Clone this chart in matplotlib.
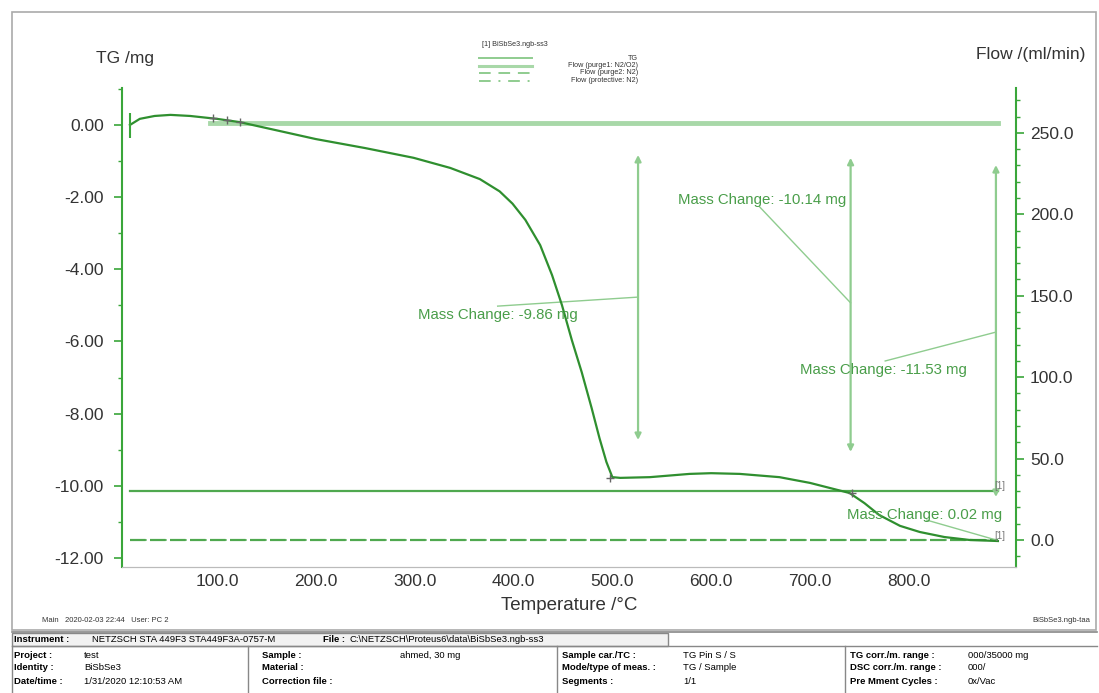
import numpy as np
import matplotlib
matplotlib.use("Agg")
import matplotlib.pyplot as plt
from matplotlib.lines import Line2D
from matplotlib.patches import Rectangle

plt.rcParams['font.family'] = ['Liberation Sans', 'DejaVu Sans']

# ---- data ----
temp = [12, 22, 37, 53, 73, 100, 123, 164, 200, 250, 299, 336, 366, 386, 399,
        412, 427, 439, 449, 459, 469, 479, 487, 494, 500, 508, 538, 578, 600,
        629, 669, 700, 720, 740, 755, 770, 791, 811, 836, 861, 890]
tg = [0.0, 0.17, 0.25, 0.28, 0.25, 0.17, 0.08, -0.17, -0.39, -0.64, -0.91,
      -1.19, -1.50, -1.84, -2.18, -2.63, -3.33, -4.16, -4.99, -5.96, -6.85,
      -7.84, -8.68, -9.34, -9.76, -9.78, -9.76, -9.67, -9.65, -9.67, -9.76,
      -9.92, -10.06, -10.2, -10.48, -10.81, -11.11, -11.28, -11.42, -11.5, -11.53]

flow_temp = [12, 890]
flow_purge1 = [30, 30]
flow_purge2 = [0, 0]
flow_protective = [0, 0]

baseline_temp = [93, 890]
baseline_tg = [0.055, 0.055]

eval_temp = [96, 110, 123, 498, 742]
eval_tg = [0.18, 0.14, 0.08, -9.77, -10.2]

# mass change annotations: arrow T, arrow top, arrow bottom, text pos, leader line
mc_labels = ["Mass Change: -9.86 mg", "Mass Change: -10.14 mg",
             "Mass Change: -11.53 mg", "Mass Change: 0.02 mg"]
mc_arrow_t = [526, 741, 888, None]
mc_arrow_top = [-0.83, -0.91, -1.11, None]
mc_arrow_bot = [-8.73, -9.06, -10.31, None]
mc_text_t = [384, 651, 774, 816]
mc_text_y = [-5.27, -2.08, -6.79, -10.81]
mc_lead_from = [(384, -5.02), (649, -2.27), (776, -6.54), (818, -10.95)]
mc_lead_to = [(526, -4.77), (741, -4.93), (888, -5.74), (888, -11.5)]

xticks = [100, 200, 300, 400, 500, 600, 700, 800]
yticks_left = [0, -2, -4, -6, -8, -10, -12]
yticks_right = [0, 50, 100, 150, 200, 250]

dark_green = '#2f8f2f'
axis_green = '#3aa63a'
light_green = '#a8d8a8'
text_green = '#4a9e4a'
grey_text = '#333333'

W, H = 1099, 693
fig = plt.figure(figsize=(W / 100, H / 100), dpi=100)


def fx(px):
    return px / W


def fy(py):
    return 1 - py / H


ax = fig.add_axes([fx(122), fy(567), fx(1016) - fx(122), fy(88) - fy(567)])
ax2 = ax.twinx()

ax.set_xlim(4.0, 908.3)
ax.set_ylim(-12.25, 1.025)
ax2.set_ylim(-16.6, 277.6)

# flows
ax2.plot(flow_temp, flow_purge1, color='#4fa84f', lw=1.6, zorder=2)
ax2.plot(flow_temp, flow_purge2, color='#4fa84f', lw=1.6, ls=(0, (7, 2)), zorder=2)
ax2.plot(flow_temp, flow_protective, color='#4fa84f', lw=1.2, ls=(0, (7, 2, 1, 2)), zorder=2)

# tg curve
ax.set_zorder(ax2.get_zorder() + 1)
ax.patch.set_visible(False)
ax.plot(baseline_temp, baseline_tg, color=light_green, lw=3.5, zorder=2)
ax.plot(temp, tg, color=dark_green, lw=1.6, zorder=3)
ax.plot([temp[0]], [tg[0]], marker='|', ms=18, mew=1.5, color=axis_green, zorder=3)
ax.plot(eval_temp, eval_tg, ls='none', marker='+', ms=6, mew=1, color='#666666', zorder=4)

for i, lab in enumerate(mc_labels):
    if mc_arrow_t[i] is not None:
        ax.annotate('', xy=(mc_arrow_t[i], mc_arrow_bot[i]),
                    xytext=(mc_arrow_t[i], mc_arrow_top[i]),
                    arrowprops=dict(arrowstyle='<|-|>', color='#8fcc8f', lw=1.6,
                                    mutation_scale=9, shrinkA=0, shrinkB=0))
    (x0, y0), (x1, y1) = mc_lead_from[i], mc_lead_to[i]
    ax.plot([x0, x1], [y0, y1], color='#8fcc8f', lw=1.0, zorder=2)
    ax.text(mc_text_t[i], mc_text_y[i], lab, color=text_green, fontsize=10.8,
            ha='center', va='center', zorder=5)

ax.text(892, -10.0, '[1]', fontsize=7, color='#777777', ha='center', va='center')
ax.text(892, -11.4, '[1]', fontsize=7, color='#777777', ha='center', va='center')

# axes styling
for a in (ax, ax2):
    a.spines['top'].set_visible(False)
    a.spines['bottom'].set_color('#bbbbbb')
ax.spines['right'].set_visible(False)
ax2.spines['left'].set_visible(False)
ax.spines['left'].set_color(axis_green)
ax.spines['left'].set_linewidth(1.5)
ax2.spines['right'].set_color(axis_green)
ax2.spines['right'].set_linewidth(1.5)

ax.set_xticks(xticks)
ax.set_xticklabels([f'{t:.1f}' for t in xticks], fontsize=12.5, color=grey_text)
ax.tick_params(axis='x', length=0, pad=5)
ax.set_yticks(yticks_left)
ax.set_yticklabels([f'{v:.2f}' for v in yticks_left], fontsize=12.5, color=grey_text)
ax.set_yticks(np.arange(-12, 1.5, 1), minor=True)
ax.tick_params(axis='y', which='major', length=6, color=axis_green, width=1.2, pad=7)
ax.tick_params(axis='y', which='minor', length=3, color=axis_green, width=1.0)

ax2.set_yticks(yticks_right)
ax2.set_yticklabels([f'{v:.1f}' for v in yticks_right], fontsize=12.5, color=grey_text)
ax2.set_yticks(np.arange(-10, 280, 10), minor=True)
ax2.tick_params(axis='y', which='major', length=6, color=axis_green, width=1.2, pad=4)
ax2.tick_params(axis='y', which='minor', length=3, color=axis_green, width=1.0)

fig.text(fx(569), fy(605), 'Temperature /°C', fontsize=13.5, color=grey_text, ha='center', va='center')

fig.text(fx(125), fy(58), 'TG /mg', fontsize=12.5, color=grey_text, ha='center', va='center')
fig.text(fx(1085), fy(55), 'Flow /(ml/min)', fontsize=12.5, color=grey_text, ha='right', va='center')

# legend drawn by hand (right aligned text like the original)
fig.text(fx(482), fy(45), '[1] BiSbSe3.ngb-ss3', fontsize=5.2, color=grey_text, va='center')
leg_entries = [('TG', '-', '#8fcc8f', 1.4),
               ('Flow (purge1: N2/O2)', '-', '#a8d8a8', 2.2),
               ('Flow (purge2: N2)', (0, (6, 4)), '#8fcc8f', 1.4),
               ('Flow (protective: N2)', (0, (6, 4, 1, 4)), '#8fcc8f', 1.4)]
for k, (name, ls, col, lw) in enumerate(leg_entries):
    yy = 58 + k * 7.5
    fig.add_artist(Line2D([fx(479), fx(532)], [fy(yy), fy(yy)], color=col, ls=ls, lw=lw))
    fig.text(fx(638), fy(yy), name, fontsize=5.2, color=grey_text, ha='right', va='center')

# outer frame
fig.add_artist(Rectangle((fx(12), fy(630)), fx(1096) - fx(12), fy(12) - fy(630),
                         fill=False, ec='#aaaaaa', lw=1.2))

fig.text(fx(42), fy(620), 'Main   2020-02-03 22:44   User: PC 2', fontsize=5.5, color=grey_text, va='center')
fig.text(fx(1090), fy(620), 'BiSbSe3.ngb-taa', fontsize=5.5, color=grey_text, ha='right', va='center')

# info table
fig.add_artist(Rectangle((fx(12), fy(646)), fx(668) - fx(12), fy(633) - fy(646),
                         fill=True, fc='#f2f2f2', ec='#888888', lw=1.0))
fig.add_artist(Line2D([fx(12), fx(1097)], [fy(632), fy(632)], color='#888888', lw=1.2))
fig.add_artist(Line2D([fx(12), fx(1097)], [fy(646), fy(646)], color='#888888', lw=1.0))
for xv in (12, 248, 557, 845):
    fig.add_artist(Line2D([fx(xv), fx(xv)], [fy(646), fy(693)], color='#888888', lw=1.0))

fs = 6.8
fig.text(fx(14), fy(639), 'Instrument :', fontsize=fs, weight='bold', va='center')
fig.text(fx(92), fy(639), 'NETZSCH STA 449F3 STA449F3A-0757-M', fontsize=fs, va='center')
fig.text(fx(323), fy(639), 'File :', fontsize=fs, weight='bold', va='center')
fig.text(fx(350), fy(639), 'C:\\NETZSCH\\Proteus6\\data\\BiSbSe3.ngb-ss3', fontsize=fs, va='center')

table_cols = [
    (14, 84, ['Project :', 'Identity :', 'Date/time :'],
     ['test', 'BiSbSe3', '1/31/2020 12:10:53 AM']),
    (262, 400, ['Sample :', 'Material :', 'Correction file :'],
     ['ahmed, 30 mg', '', '']),
    (562, 683, ['Sample car./TC :', 'Mode/type of meas. :', 'Segments :'],
     ['TG Pin S / S', 'TG / Sample', '1/1']),
    (850, 968, ['TG corr./m. range :', 'DSC corr./m. range :', 'Pre Mment Cycles :'],
     ['000/35000 mg', '000/', '0x/Vac']),
]
for lx, vx, labs, vals in table_cols:
    for r, (lab, val) in enumerate(zip(labs, vals)):
        yy = 655 + r * 13
        fig.text(fx(lx), fy(yy), lab, fontsize=fs, weight='bold', va='center')
        fig.text(fx(vx), fy(yy), val, fontsize=fs, va='center')

fig.savefig('out.png', dpi=100)
